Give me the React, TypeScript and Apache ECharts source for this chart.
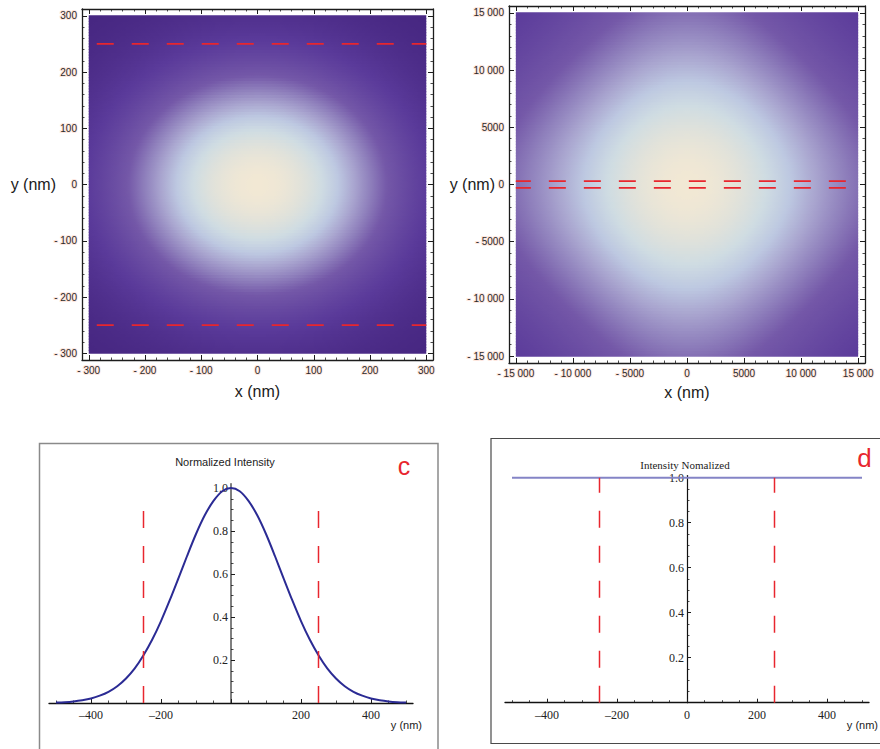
import React, { useEffect, useRef } from "react";
import * as echarts from "echarts";

// ---------- Panel a (600 nm window): cell centres and the intensity read along x and along y ----------
const aCenters = [-297.5,-292.5,-287.5,-282.5,-277.5,-272.5,-267.5,-262.5,-257.5,-252.5,-247.5,-242.5,-237.5,-232.5,-227.5,-222.5,-217.5,-212.5,-207.5,-202.5,-197.5,-192.5,-187.5,-182.5,-177.5,-172.5,-167.5,-162.5,-157.5,-152.5,-147.5,-142.5,-137.5,-132.5,-127.5,-122.5,-117.5,-112.5,-107.5,-102.5,-97.5,-92.5,-87.5,-82.5,-77.5,-72.5,-67.5,-62.5,-57.5,-52.5,-47.5,-42.5,-37.5,-32.5,-27.5,-22.5,-17.5,-12.5,-7.5,-2.5,2.5,7.5,12.5,17.5,22.5,27.5,32.5,37.5,42.5,47.5,52.5,57.5,62.5,67.5,72.5,77.5,82.5,87.5,92.5,97.5,102.5,107.5,112.5,117.5,122.5,127.5,132.5,137.5,142.5,147.5,152.5,157.5,162.5,167.5,172.5,177.5,182.5,187.5,192.5,197.5,202.5,207.5,212.5,217.5,222.5,227.5,232.5,237.5,242.5,247.5,252.5,257.5,262.5,267.5,272.5,277.5,282.5,287.5,292.5,297.5];
const aXProfile = [0.216,0.228,0.239,0.251,0.264,0.277,0.290,0.304,0.318,0.332,0.347,0.362,0.377,0.392,0.408,0.425,0.441,0.458,0.475,0.492,0.509,0.527,0.544,0.562,0.580,0.598,0.615,0.633,0.651,0.669,0.686,0.704,0.721,0.738,0.755,0.771,0.788,0.803,0.819,0.834,0.848,0.862,0.876,0.889,0.901,0.913,0.924,0.935,0.944,0.953,0.962,0.969,0.976,0.982,0.987,0.991,0.995,0.997,0.999,1.000,1.000,0.999,0.997,0.995,0.991,0.987,0.982,0.976,0.969,0.962,0.953,0.944,0.935,0.924,0.913,0.901,0.889,0.876,0.862,0.848,0.834,0.819,0.803,0.788,0.771,0.755,0.738,0.721,0.704,0.686,0.669,0.651,0.633,0.615,0.598,0.580,0.562,0.544,0.527,0.509,0.492,0.475,0.458,0.441,0.425,0.408,0.392,0.377,0.362,0.347,0.332,0.318,0.304,0.290,0.277,0.264,0.251,0.239,0.228,0.216];
const aYProfile = [0.118,0.127,0.136,0.146,0.156,0.167,0.178,0.190,0.202,0.215,0.228,0.242,0.257,0.272,0.287,0.303,0.320,0.337,0.354,0.372,0.390,0.409,0.428,0.448,0.468,0.488,0.508,0.529,0.550,0.571,0.592,0.613,0.634,0.655,0.676,0.696,0.717,0.737,0.757,0.776,0.795,0.814,0.831,0.849,0.865,0.881,0.896,0.910,0.923,0.936,0.947,0.957,0.967,0.975,0.982,0.988,0.993,0.996,0.999,1.000,1.000,0.999,0.996,0.993,0.988,0.982,0.975,0.967,0.957,0.947,0.936,0.923,0.910,0.896,0.881,0.865,0.849,0.831,0.814,0.795,0.776,0.757,0.737,0.717,0.696,0.676,0.655,0.634,0.613,0.592,0.571,0.550,0.529,0.508,0.488,0.468,0.448,0.428,0.409,0.390,0.372,0.354,0.337,0.320,0.303,0.287,0.272,0.257,0.242,0.228,0.215,0.202,0.190,0.178,0.167,0.156,0.146,0.136,0.127,0.118];
const aTickLabels = [-300, -200, -100, 0, 100, 200, 300];
const aRange = [-312, 312];
const aCutSpan = [-300, 300];
const aCutY = [250, -250];

// ---------- Panel b (30 µm window) ----------
const bCenters = [-14875,-14625,-14375,-14125,-13875,-13625,-13375,-13125,-12875,-12625,-12375,-12125,-11875,-11625,-11375,-11125,-10875,-10625,-10375,-10125,-9875,-9625,-9375,-9125,-8875,-8625,-8375,-8125,-7875,-7625,-7375,-7125,-6875,-6625,-6375,-6125,-5875,-5625,-5375,-5125,-4875,-4625,-4375,-4125,-3875,-3625,-3375,-3125,-2875,-2625,-2375,-2125,-1875,-1625,-1375,-1125,-875,-625,-375,-125,125,375,625,875,1125,1375,1625,1875,2125,2375,2625,2875,3125,3375,3625,3875,4125,4375,4625,4875,5125,5375,5625,5875,6125,6375,6625,6875,7125,7375,7625,7875,8125,8375,8625,8875,9125,9375,9625,9875,10125,10375,10625,10875,11125,11375,11625,11875,12125,12375,12625,12875,13125,13375,13625,13875,14125,14375,14625,14875];
const bProfile = [0.464,0.473,0.481,0.490,0.499,0.508,0.517,0.527,0.536,0.546,0.556,0.566,0.576,0.587,0.597,0.608,0.618,0.629,0.640,0.652,0.663,0.674,0.686,0.697,0.709,0.720,0.732,0.744,0.756,0.767,0.779,0.791,0.802,0.814,0.825,0.836,0.847,0.858,0.869,0.880,0.890,0.900,0.909,0.919,0.927,0.936,0.944,0.952,0.959,0.965,0.971,0.977,0.982,0.986,0.990,0.993,0.996,0.998,0.999,1.000,1.000,0.999,0.998,0.996,0.993,0.990,0.986,0.982,0.977,0.971,0.965,0.959,0.952,0.944,0.936,0.927,0.919,0.909,0.900,0.890,0.880,0.869,0.858,0.847,0.836,0.825,0.814,0.802,0.791,0.779,0.767,0.756,0.744,0.732,0.720,0.709,0.697,0.686,0.674,0.663,0.652,0.640,0.629,0.618,0.608,0.597,0.587,0.576,0.566,0.556,0.546,0.536,0.527,0.517,0.508,0.499,0.490,0.481,0.473,0.464];
const bTickLabels = [-15000, -10000, -5000, 0, 5000, 10000, 15000];
const bRange = [-15600, 15600];
const bCutSpan = [-15000, 15000];
const bCutY = [300, -300];

// ---------- Panel c (normalized intensity profile) ----------
const cX = [-500,-475,-450,-425,-400,-375,-350,-325,-300,-275,-250,-225,-200,-175,-150,-125,-100,-75,-50,-25,0,25,50,75,100,125,150,175,200,225,250,275,300,325,350,375,400,425,450,475,500];
const cY = [0.002,0.004,0.0075,0.013,0.021,0.034,0.052,0.078,0.114,0.161,0.222,0.295,0.381,0.478,0.581,0.686,0.786,0.873,0.940,0.985,1.000,0.985,0.940,0.873,0.786,0.686,0.581,0.478,0.381,0.295,0.222,0.161,0.114,0.078,0.052,0.034,0.021,0.013,0.0075,0.004,0.002];
const cXTickLabels = [-400, -200, 200, 400];
const cutX = [-250, 250];
const cCutTop = 0.9;

// ---------- Panel d (flat profile) ----------
const dX = [-500, 500];
const dY = [1, 1];
const dXTickLabels = [-400, -200, 0, 200, 400];
const dCutTop = 1.0;

const profileXTicks = [-400, -200, 0, 200, 400];
const profileYTicks = [0.2, 0.4, 0.6, 0.8, 1.0];
const profileXRange = [-520, 520];

const densityColors = ["#44247e", "#4f2f8c", "#5a3a9a", "#6749a1", "#7458a8", "#8f80bc", "#a9a5cf", "#bdc8e1", "#cfdce2", "#e1e2da", "#f2e8d4"];

const RED = "#e8262e";
const INK = "#1c1c1c";

function fmtFrame(v: number): string {
  const abs = Math.abs(v);
  const s = abs >= 10000 ? String(abs).replace(/\B(?=(\d{3})+(?!\d))/g, " ") : String(abs);
  return v < 0 ? "- " + s : s;
}
function fmtProfileX(v: number): string {
  return v < 0 ? "\u2013" + Math.abs(v) : String(v);
}

// Density image: one row of cells per y centre; each row is a rect whose
// horizontal gradient passes through the colour of every cell in that row.
function densitySeries(axisIdx: number, centers: number[], xs: number[], ys: number[]) {
  const n = centers.length;
  const half = (centers[1] - centers[0]) / 2;
  const rows = ys.map((py) => xs.map((px) => px * py));
  const rowStops = rows.map((row) =>
    row.map((v, i) => ({ offset: (i + 0.5) / n, color: echarts.color.lerp(Math.max(0, Math.min(1, v)), densityColors) }))
  );
  return {
    type: "custom",
    xAxisIndex: axisIdx,
    yAxisIndex: axisIdx,
    data: centers.map((y) => [0, y]),
    progressive: 0,
    silent: true,
    z: 1,
    renderItem: (params: any, api: any) => {
      const y = api.value(1);
      const p0 = api.coord([centers[0] - half, y + half]);
      const p1 = api.coord([centers[n - 1] + half, y - half]);
      return {
        type: "rect",
        shape: { x: p0[0], y: p0[1] - 0.6, width: p1[0] - p0[0], height: p1[1] - p0[1] + 1.2 },
        style: {
          fill: { type: "linear", x: 0, y: 0, x2: 1, y2: 0, colorStops: rowStops[params.dataIndex] },
        },
      };
    },
  };
}

function frameAxis(grid: number, position: string, range: number[], labels: number[] | null, extra: any = {}) {
  return {
    type: "value",
    gridIndex: grid,
    position,
    min: range[0],
    max: range[1],
    splitNumber: 5,
    axisLine: { show: true, onZero: false, lineStyle: { color: INK, width: 1.3 } },
    axisTick: { show: true, inside: true, length: 5, lineStyle: { color: INK, width: 1 } },
    minorTick: { show: true, splitNumber: 5, length: 2.5, lineStyle: { color: INK, width: 0.8 } },
    splitLine: { show: false },
    axisLabel: labels
      ? {
          show: true,
          customValues: labels,
          formatter: fmtFrame,
          fontFamily: "Liberation Sans",
          fontSize: 10,
          color: "#2a2a2a",
          margin: 5,
          textBorderColor: "#fde6de",
          textBorderWidth: 2,
        }
      : { show: false },
    ...extra,
  };
}

function cutLine(axisIdx: number, pts: number[][], width: number, dashOffset: number) {
  return {
    type: "line",
    xAxisIndex: axisIdx,
    yAxisIndex: axisIdx,
    data: pts,
    symbol: "none",
    silent: true,
    z: 5,
    lineStyle: { color: RED, width, type: [17, 18], dashOffset },
  };
}

export default function App() {
  const ref = useRef<HTMLDivElement>(null);

  useEffect(() => {
    if (!ref.current) return;
    const chart = echarts.init(ref.current, null, { renderer: "svg" });

    const gridBase = { containLabel: false, outerBoundsMode: "none", show: false };

    const nameStyleX = { fontFamily: "Liberation Sans", fontSize: 16, color: "#1a1a1a", align: "center", verticalAlign: "middle" };
    const nameStyleY = { fontFamily: "Liberation Sans", fontSize: 16, color: "#1a1a1a", align: "right", verticalAlign: "middle" };

    const profileXAxis = (grid: number, labels: number[]) => ({
      type: "value",
      gridIndex: grid,
      min: profileXRange[0],
      max: profileXRange[1],
      splitNumber: 5,
      axisLine: { show: true, onZero: false, lineStyle: { color: "#111", width: 1.3 } },
      axisTick: { show: true, inside: true, length: 4, customValues: profileXTicks, lineStyle: { color: INK, width: 1 } },
      minorTick: { show: true, splitNumber: 4, length: 2.5, lineStyle: { color: INK, width: 0.8 } },
      splitLine: { show: false },
      axisLabel: { show: true, customValues: labels, formatter: fmtProfileX, fontFamily: "Liberation Serif", fontSize: 12, color: "#222", margin: 6 },
    });
    // y axis sits on x = 0: 182 px to the right of the grid's left edge
    const profileYAxis = (grid: number, max: number, lineColor: string, lw: number) => ({
      type: "value",
      gridIndex: grid,
      position: "left",
      offset: -182,
      min: 0,
      max,
      splitNumber: 5,
      axisLine: { show: true, onZero: false, lineStyle: { color: lineColor, width: lw } },
      axisTick: { show: true, inside: true, length: 4, customValues: profileYTicks, lineStyle: { color: INK, width: 1 } },
      minorTick: { show: true, splitNumber: 4, length: 2.5, lineStyle: { color: INK, width: 0.8 } },
      splitLine: { show: false },
      axisLabel: { show: true, customValues: profileYTicks, formatter: (v: number) => v.toFixed(1), fontFamily: "Liberation Serif", fontSize: 12, color: "#222", margin: 3 },
    });

    const option: any = {
      animation: false,
      backgroundColor: "#ffffff",
      grid: [
        { ...gridBase, left: 82, top: 9, width: 351, height: 351 },
        { ...gridBase, left: 509, top: 6, width: 356, height: 357 },
        { ...gridBase, left: 49, top: 483.7, width: 364, height: 219.3 },
        { ...gridBase, left: 505, top: 475.5, width: 364, height: 227.2 },
      ],
      xAxis: [
        frameAxis(0, "bottom", aRange, aTickLabels, {
          name: "x (nm)", nameLocation: "middle", nameGap: 31, nameTextStyle: nameStyleX, nameMoveOverlap: false,
        }),
        frameAxis(0, "top", aRange, null),
        frameAxis(1, "bottom", bRange, bTickLabels, {
          name: "x (nm)", nameLocation: "middle", nameGap: 29, nameTextStyle: nameStyleX, nameMoveOverlap: false,
        }),
        frameAxis(1, "top", bRange, null),
        profileXAxis(2, cXTickLabels),
        profileXAxis(3, dXTickLabels),
      ],
      yAxis: [
        frameAxis(0, "left", aRange, aTickLabels, {
          name: "y (nm)", nameLocation: "middle", nameRotate: 0, nameGap: 26, nameTextStyle: nameStyleY, nameMoveOverlap: false,
        }),
        frameAxis(0, "right", aRange, null),
        frameAxis(1, "left", bRange, bTickLabels, {
          name: "y (nm)", nameLocation: "middle", nameRotate: 0, nameGap: 14, nameTextStyle: nameStyleY, nameMoveOverlap: false,
        }),
        frameAxis(1, "right", bRange, null),
        profileYAxis(2, 1.02, "#555", 1.5),
        profileYAxis(3, 1.01, "#111", 1.2),
      ],
      series: [
        densitySeries(0, aCenters, aXProfile, aYProfile),
        densitySeries(2, bCenters, bProfile, bProfile),
        ...aCutY.map((y) => cutLine(0, aCutSpan.map((x) => [x, y]), 1.6, 27)),
        ...bCutY.map((y) => cutLine(2, bCutSpan.map((x) => [x, y]), 1.8, 2)),
        {
          type: "line",
          xAxisIndex: 4,
          yAxisIndex: 4,
          data: cX.map((x, i) => [x, cY[i]]),
          symbol: "none",
          smooth: 0.3,
          silent: true,
          z: 4,
          lineStyle: { color: "#2b2b94", width: 2 },
        },
        ...cutX.map((x) => cutLine(4, [[x, 0], [x, cCutTop]], 1.5, 0)),
        {
          type: "line",
          xAxisIndex: 5,
          yAxisIndex: 5,
          data: dX.map((x, i) => [x, dY[i]]),
          symbol: "none",
          silent: true,
          z: 4,
          lineStyle: { color: "#8484c6", width: 1.8 },
        },
        ...cutX.map((x) => cutLine(5, [[x, 0], [x, dCutTop]], 1.5, 0)),
      ],
      graphic: [
        { type: "rect", silent: true, shape: { x: 39.5, y: 443.5, width: 398.5, height: 330 }, style: { fill: "none", stroke: "#8a8a8a", lineWidth: 1.5 } },
        { type: "rect", silent: true, shape: { x: 491, y: 438.5, width: 420, height: 305 }, style: { fill: "none", stroke: "#4a4a4a", lineWidth: 1.2 } },
        { type: "text", silent: true, x: 409, y: 27.5, style: { text: "a", fill: RED, font: "27px 'Liberation Sans'", align: "center", verticalAlign: "middle" } },
        { type: "text", silent: true, x: 836, y: 36.5, style: { text: "b", fill: RED, font: "30px 'Liberation Sans'", align: "center", verticalAlign: "middle" } },
        { type: "text", silent: true, x: 404, y: 466, style: { text: "c", fill: RED, font: "25px 'Liberation Sans'", align: "center", verticalAlign: "middle" } },
        { type: "text", silent: true, x: 864.5, y: 458, style: { text: "d", fill: RED, font: "26px 'Liberation Sans'", align: "center", verticalAlign: "middle" } },
        { type: "text", silent: true, x: 225, y: 462, style: { text: "Normalized Intensity", fill: "#222", font: "11px 'Liberation Sans'", align: "center", verticalAlign: "middle" } },
        { type: "text", silent: true, x: 685, y: 465, style: { text: "Intensity Nomalized", fill: "#222", font: "11px 'Liberation Serif'", align: "center", verticalAlign: "middle" } },
        { type: "text", silent: true, x: 422, y: 725, style: { text: "y (nm)", fill: "#222", font: "11px 'Liberation Sans'", align: "right", verticalAlign: "middle" } },
        { type: "text", silent: true, x: 878, y: 725, style: { text: "y (nm)", fill: "#222", font: "11px 'Liberation Sans'", align: "right", verticalAlign: "middle" } },
      ],
    };

    chart.setOption(option);
    return () => chart.dispose();
  }, []);

  return <div ref={ref} style={{ position: "absolute", left: 0, top: 0, width: 880, height: 749 }} />;
}
